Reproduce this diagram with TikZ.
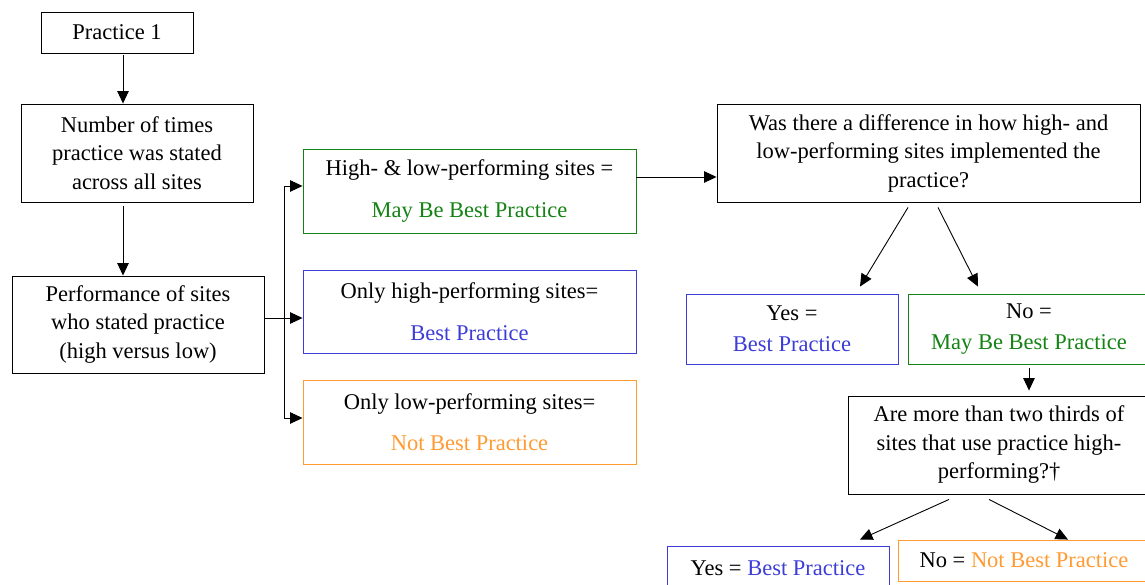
\documentclass[tikz,border=0pt]{standalone}
\usepackage{fontspec}
\setmainfont{Liberation Serif}
\usepackage{xcolor}
\usetikzlibrary{arrows.meta,positioning,calc}

\definecolor{mbbgreen}{RGB}{20,130,20}
\definecolor{bpblue}{RGB}{60,60,215}
\definecolor{nbporange}{RGB}{255,155,50}

\tikzset{
  box/.style={draw, line width=0.9pt, align=center, inner sep=0pt},
  link/.style={line width=0.9pt, -{Triangle[length=12.5pt,width=11.5pt]}},
}

\begin{document}
\begin{tikzpicture}[x=1pt, y=-1pt, font=\fontsize{22.5}{28.5}\selectfont]
    \useasboundingbox (0,0) rectangle (1145,585);
    \clip (0,0) rectangle (1145,585);

    % left column
    \node[box, minimum width=152, minimum height=41] (prac) at (117,32.5) {Practice 1};
    \node[box, minimum width=232, minimum height=98] (count) at (137,153)
        {Number of times\\practice was stated\\across all sites};
    \node[box, minimum width=252, minimum height=97] (perf) at (138,324.5)
        {Performance of sites\\who stated practice\\(high versus low)};

    % outcome boxes
    \node[box, draw=mbbgreen, minimum width=333, minimum height=84] (both) at (469.5,191)
        {High- \& low-performing sites =\\[13.5pt]\textcolor{mbbgreen}{May Be Best Practice}};
    \node[box, draw=bpblue, minimum width=333, minimum height=83] (high) at (469.5,311.5)
        {Only high-performing sites=\\[13.5pt]\textcolor{bpblue}{Best Practice}};
    \node[box, draw=nbporange, minimum width=333, minimum height=84] (low) at (469.5,422)
        {Only low-performing sites=\\[12.5pt]\textcolor{nbporange}{Not Best Practice}};

    % first question
    \node[box, minimum width=423, minimum height=98] (diff) at (928.5,153)
        {Was there a difference in how high- and\\low-performing sites implemented the\\practice?};
    \node[box, draw=bpblue, minimum width=212, minimum height=70] (yesA) at (792,329)
        {Yes =\\[2.5pt]\textcolor{bpblue}{Best Practice}};
    \node[box, draw=mbbgreen, minimum width=242, minimum height=70] (noA) at (1029,329)
        {No =\\[2.5pt]\textcolor{mbbgreen}{May Be Best Practice}};

    % second question
    \node[box, minimum width=302, minimum height=98] (third) at (999,445)
        {Are more than two thirds of\\sites that use practice high-\\performing?†};
    \node[box, draw=bpblue, minimum width=222, minimum height=44] (yesB) at (778,568)
        {Yes = \textcolor{bpblue}{Best Practice}};
    \node[box, draw=nbporange, minimum width=252, minimum height=41] (noB) at (1024,560.5)
        {No = \textcolor{nbporange}{Not Best Practice}};

    % connectors
    \draw[link, shorten <=2pt] ([xshift=6pt]prac.south) coordinate (p) -- (p |- count.north);
    \draw[link, shorten <=4pt] ([xshift=-14pt]count.south) coordinate (c) -- (c |- perf.north);

    \coordinate (fork) at (284,318);
    \draw[line width=0.9pt] (perf.east |- fork) -- (fork);
    \draw[link] (fork) |- ([yshift=5pt]both.west);
    \draw[link] (fork) -- (fork -| high.west);
    \draw[link] (fork) |- ([yshift=4pt]low.west);

    \draw[link] ([yshift=14pt]both.east) coordinate (b) -- (b -| diff.west);
    \draw[link] ([xshift=-20.5pt,yshift=-5pt]diff.south) -- ([xshift=68pt,yshift=7pt]yesA.north);
    \draw[link] ([xshift=9.5pt,yshift=-5pt]diff.south) -- ([xshift=-51pt,yshift=7pt]noA.north);

    \draw[link, shorten <=4pt, shorten >=5pt] (noA.south) -- (noA.south |- third.north);
    \draw[link] ([xshift=-50pt,yshift=-5pt]third.south) -- ([xshift=82pt,yshift=6pt]yesB.north);
    \draw[link] ([xshift=-10pt,yshift=-5pt]third.south) -- ([xshift=44pt]noB.north);
\end{tikzpicture}
\end{document}
